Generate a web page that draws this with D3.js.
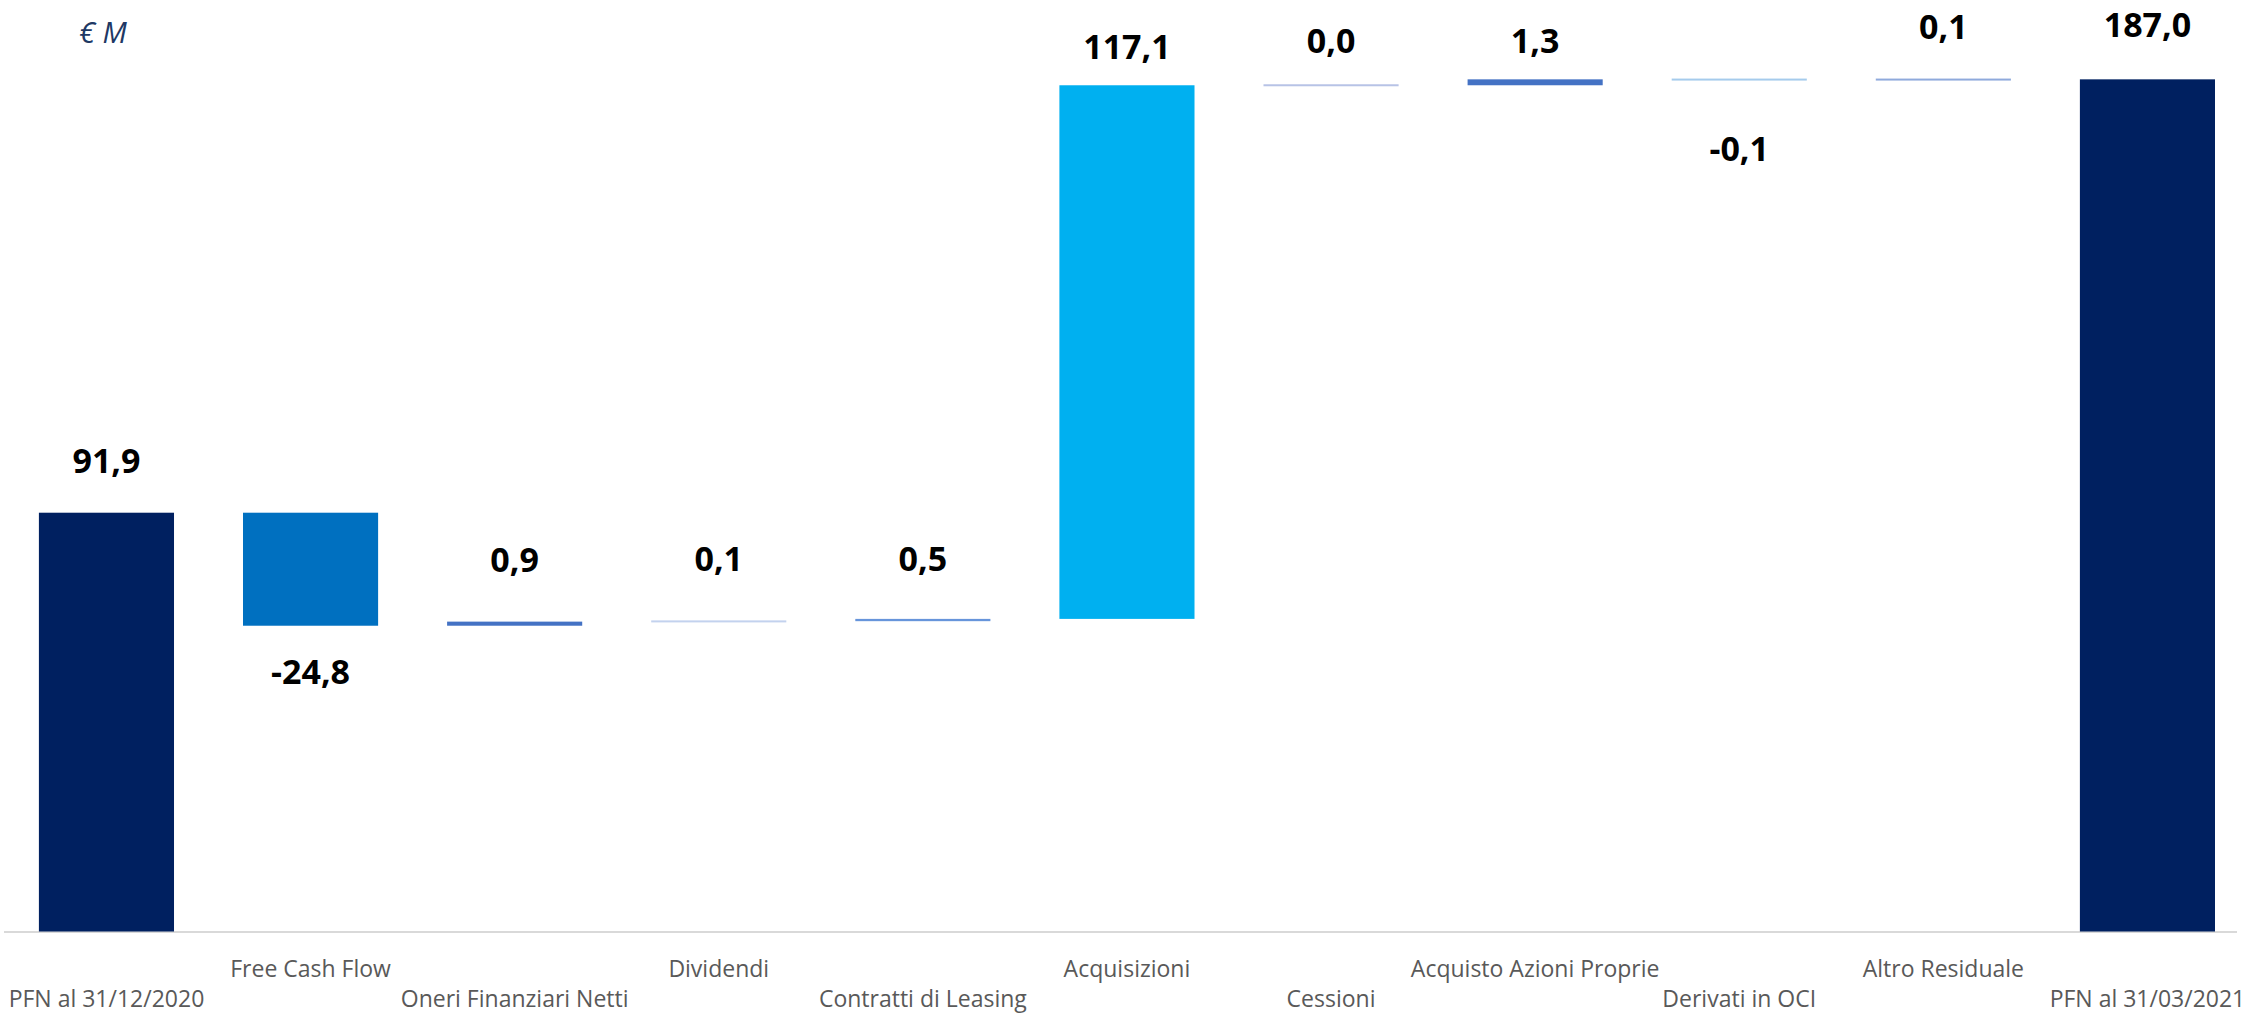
<!DOCTYPE html>
<html>
<head>
<meta charset="utf-8">
<script src="https://cdn.jsdelivr.net/npm/d3@7"></script>
<style>
  html, body { margin: 0; padding: 0; background: #ffffff; }
  svg { display: block; }
</style>
</head>
<body>
<script>
// ---- Data ----
const categories = [
  "PFN al 31/12/2020", "Free Cash Flow", "Oneri Finanziari Netti", "Dividendi",
  "Contratti di Leasing", "Acquisizioni", "Cessioni", "Acquisto Azioni Proprie",
  "Derivati in OCI", "Altro Residuale", "PFN al 31/03/2021"
];
const values = [91.9, -24.8, 0.9, 0.1, 0.5, 117.1, 0.0, 1.3, -0.1, 0.1, 187.0];
const isTotal = [true, false, false, false, false, false, false, false, false, false, true];
const unitLabel = "€ M";

// ---- Styles / layout ----
const barColors = ["#002060", "#0070C0", "#4472C4", "#C3D2EE", "#6795DB", "#00B0F0",
                   "#B7C3E6", "#4472C4", "#A5CBEC", "#8FAADC", "#002060"];
// small vertical nudges (px) applied to the value labels
const labelNudge = [0, 0, -10, -10, -8, 14, 8, 14, 23, 0, -2];

const W = 2254, H = 1017;
const svg = d3.select("body").append("svg").attr("width", W).attr("height", H);

const x = d3.scaleBand().domain(categories).range([38.9, 2215]).paddingInner(0.338).paddingOuter(0);
const y = d3.scaleLinear().domain([0, 200]).range([931.5, 20.1]);

// running totals
let run = 0;
const bars = categories.map((c, i) => {
  let start, end;
  if (isTotal[i]) { start = 0; end = values[i]; run = values[i]; }
  else { start = run; end = run + values[i]; run = end; }
  return { c, i, v: values[i], start, end };
});

const fmt = d3.formatLocale({ decimal: ",", thousands: ".", grouping: [3], currency: ["€", ""], minus: "-" }).format(".1f");

// axis baseline
svg.append("line")
  .attr("x1", 4).attr("x2", 2237)
  .attr("y1", y(0) + 0.5).attr("y2", y(0) + 0.5)
  .attr("stroke", "#D9D9D9").attr("stroke-width", 2);

// bars
svg.append("g").selectAll("rect").data(bars).join("rect")
  .attr("x", d => x(d.c))
  .attr("width", x.bandwidth())
  .attr("y", d => {
    const top = y(Math.max(d.start, d.end)), bot = y(Math.min(d.start, d.end));
    const h = Math.max(bot - top, 2);
    return (top + bot) / 2 - h / 2;
  })
  .attr("height", d => Math.max(Math.abs(y(d.start) - y(d.end)), 2))
  .attr("fill", d => barColors[d.i]);

// value labels
svg.append("g").selectAll("text").data(bars).join("text")
  .attr("x", d => x(d.c) + x.bandwidth() / 2)
  .attr("y", d => (d.v < 0 ? y(Math.min(d.start, d.end)) + 58 : y(Math.max(d.start, d.end)) - 40) + labelNudge[d.i])
  .attr("text-anchor", "middle")
  .attr("font-family", "'Open Sans', sans-serif")
  .attr("font-weight", 700)
  .attr("font-size", 34)
  .attr("fill", "#000000")
  .text(d => fmt(d.v));

// category labels, staggered in two rows
const xAxis = d3.axisBottom(x).tickSize(0).tickPadding(0);
const axisG = svg.append("g").attr("transform", `translate(0,${y(0)})`).call(xAxis);
axisG.select(".domain").remove();
axisG.selectAll(".tick text")
  .attr("y", (d, i) => i % 2 === 1 ? 45 : 75)
  .attr("dy", 0)
  .attr("font-family", "'Open Sans', sans-serif")
  .attr("font-size", 23)
  .attr("fill", "#595959");

// unit label
svg.append("text")
  .attr("x", 79).attr("y", 43)
  .attr("font-family", "'Open Sans', sans-serif")
  .attr("font-style", "italic")
  .attr("font-size", 29)
  .attr("fill", "#203864")
  .text(unitLabel);
</script>
</body>
</html>
